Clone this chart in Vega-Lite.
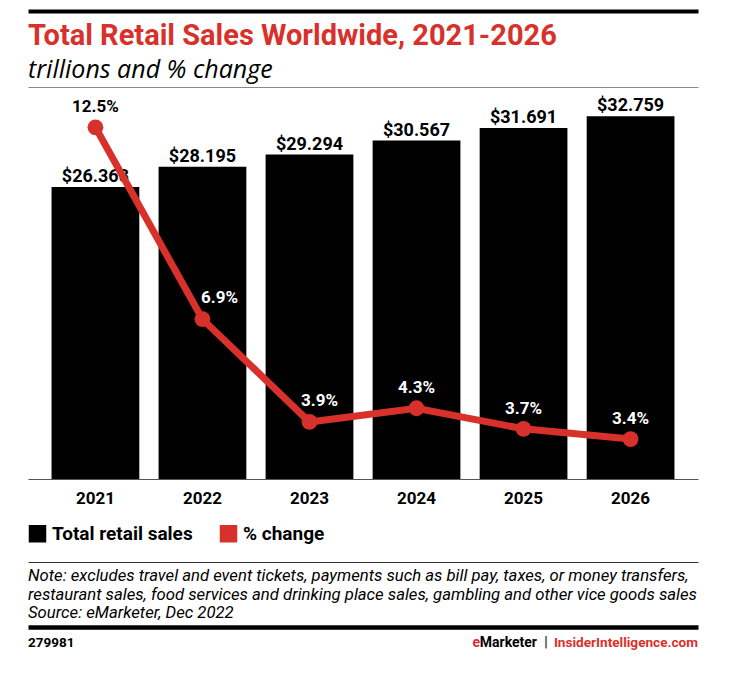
{
  "$schema": "https://vega.github.io/schema/vega-lite/v6.json",
  "background": "white",
  "padding": {"left": 28, "top": 11, "right": 10, "bottom": 5},
  "spacing": 56,
  "config": {
    "font": "Roboto",
    "view": {"stroke": null},
    "axis": {"title": null}
  },
  "datasets": {
    "main": [
      {"year": "2021", "sales": 26.368, "pct": 0.125},
      {"year": "2022", "sales": 28.195, "pct": 0.069},
      {"year": "2023", "sales": 29.294, "pct": 0.039},
      {"year": "2024", "sales": 30.567, "pct": 0.043},
      {"year": "2025", "sales": 31.691, "pct": 0.037},
      {"year": "2026", "sales": 32.759, "pct": 0.034}
    ],
    "notes": [
      {"slot": "l1", "text": "Note: excludes travel and event tickets, payments such as bill pay, taxes, or money transfers,"},
      {"slot": "l2", "text": "restaurant sales, food services and drinking place sales, gambling and other vice goods sales"},
      {"slot": "l3", "text": "Source: eMarketer, Dec 2022"}
    ],
    "footer": [
      {"part": "id", "text": "279981"},
      {"part": "e", "text": "e"},
      {"part": "marketer", "text": "Marketer"},
      {"part": "bar", "text": "|"},
      {"part": "site", "text": "InsiderIntelligence.com"}
    ]
  },
  "vconcat": [
    {
      "width": 670,
      "height": 392,
      "title": {
        "text": "Total Retail Sales Worldwide, 2021-2026",
        "subtitle": "trillions and % change",
        "anchor": "start",
        "frame": "group",
        "baseline": "top",
        "font": "Roboto",
        "fontSize": 29,
        "fontWeight": "bold",
        "color": "#d8312b",
        "subtitleFont": "Open Sans",
        "subtitleFontSize": 25,
        "subtitleFontStyle": "italic",
        "subtitleFontWeight": "normal",
        "subtitleColor": "#000000",
        "subtitlePadding": 7,
        "offset": -72
      },
      "data": {"name": "main"},
      "layer": [
        {
          "encoding": {
            "x": {
              "field": "year", "type": "ordinal",
              "scale": {"paddingInner": 0.18, "paddingOuter": 0.22},
              "axis": {"orient": "bottom", "domainColor": "#555555", "domainWidth": 1, "ticks": false, "tickSize": 0, "labelPadding": 11, "labelFontSize": 17, "labelFontWeight": "bold", "labelColor": "#000000", "labelAngle": 0, "grid": false, "title": null}
            },
            "y": {
              "field": "sales", "type": "quantitative",
              "scale": {"domain": [0, 35.4], "nice": false, "zero": true},
              "axis": {"values": [35.4], "grid": true, "gridColor": "#8a8a8a", "gridWidth": 1, "labels": false, "ticks": false, "domain": false, "title": null}
            }
          },
          "layer": [
            {
              "mark": {"type": "bar"},
              "encoding": {
                "color": {
                  "datum": "Total retail sales", "type": "nominal",
                  "scale": {"domain": ["Total retail sales", "% change"], "range": ["#000000", "#d8312b"]},
                  "legend": {
                    "orient": "none", "legendX": 0, "legendY": 437, "direction": "horizontal",
                    "title": null, "symbolType": "square", "symbolSize": 306, "symbolStrokeWidth": 0,
                    "labelFontSize": 19, "labelFont": "Roboto", "labelFontWeight": "bold", "labelColor": "#000000",
                    "labelOffset": 5, "columnPadding": 26, "padding": 0
                  }
                }
              }
            },
            {
              "mark": {"type": "text", "fontSize": 18, "fontWeight": "bold", "baseline": "alphabetic", "dy": -5, "color": "#000000"},
              "encoding": {"text": {"field": "sales", "type": "quantitative", "format": "$.3f"}}
            }
          ]
        },
        {
          "encoding": {
            "x": {
              "field": "year", "type": "ordinal",
              "scale": {"paddingInner": 0.18, "paddingOuter": 0.22},
              "axis": {"orient": "top", "offset": 76, "domainColor": "#000000", "domainWidth": 4, "labels": false, "ticks": false, "grid": false, "title": null}
            },
            "y": {
              "field": "pct", "type": "quantitative",
              "scale": {"domain": [0.02235, 0.13676], "nice": false, "zero": false},
              "axis": null
            }
          },
          "layer": [
            {"mark": {"type": "line", "color": "#d8312b", "strokeWidth": 7}},
            {"mark": {"type": "point", "filled": true, "size": 250, "color": "#d8312b", "opacity": 1}},
            {
              "transform": [{"filter": "datum.year == '2022'"}],
              "mark": {"type": "text", "fontSize": 17, "fontWeight": "bold", "baseline": "alphabetic", "dy": -16, "dx": 17},
              "encoding": {
                "text": {"field": "pct", "type": "quantitative", "format": ".1%"},
                "color": {"condition": {"test": "datum.pct > 0.1", "value": "#000000"}, "value": "#ffffff"}
              }
            },
            {
              "transform": [{"filter": "datum.year == '2023'"}],
              "mark": {"type": "text", "fontSize": 17, "fontWeight": "bold", "baseline": "alphabetic", "dy": -16, "dx": 10},
              "encoding": {
                "text": {"field": "pct", "type": "quantitative", "format": ".1%"},
                "color": {"condition": {"test": "datum.pct > 0.1", "value": "#000000"}, "value": "#ffffff"}
              }
            },
            {
              "transform": [{"filter": "datum.year != '2022' && datum.year != '2023'"}],
              "mark": {"type": "text", "fontSize": 17, "fontWeight": "bold", "baseline": "alphabetic", "dy": -15},
              "encoding": {
                "text": {"field": "pct", "type": "quantitative", "format": ".1%"},
                "color": {"condition": {"test": "datum.pct > 0.1", "value": "#000000"}, "value": "#ffffff"}
              }
            }
          ]
        }
      ],
      "resolve": {"scale": {"y": "independent"}, "axis": {"x": "independent"}}
    },
    {
      "width": 670,
      "height": 55.8,
      "layer": [
        {
          "data": {"name": "notes"},
          "mark": {"type": "text", "align": "left", "baseline": "alphabetic", "fontSize": 16.7, "fontStyle": "italic", "color": "#000000"},
          "encoding": {
            "x": {
              "datum": "left", "type": "nominal",
              "scale": {"type": "point", "domain": ["left", "right"], "padding": 0},
              "axis": {"orient": "top", "offset": 19, "domainColor": "#333333", "domainWidth": 1.2, "labels": false, "ticks": false, "grid": false, "title": null}
            },
            "y": {
              "field": "slot", "type": "ordinal",
              "scale": {"type": "point", "domain": ["l1", "g1", "l2", "g2", "l3", "r", "f"], "padding": 0},
              "axis": {"values": ["r"], "grid": true, "gridColor": "#000000", "gridWidth": 4.5, "labels": false, "ticks": false, "domain": false, "title": null}
            },
            "text": {"field": "text", "type": "nominal"}
          }
        },
        {
          "data": {"name": "footer"},
          "transform": [{"filter": "datum.part == 'id'"}],
          "mark": {"type": "text", "align": "left", "baseline": "top", "fontSize": 13.5, "fontWeight": "bold", "color": "#000000", "dy": -1},
          "encoding": {
            "x": {"datum": "left", "type": "nominal"},
            "y": {"datum": "f", "type": "ordinal"},
            "text": {"field": "text", "type": "nominal"}
          }
        },
        {
          "data": {"name": "footer"},
          "transform": [{"filter": "datum.part == 'site'"}],
          "mark": {"type": "text", "align": "right", "baseline": "top", "fontSize": 13.6, "fontWeight": "bold", "color": "#d8312b", "dy": -1},
          "encoding": {
            "x": {"datum": "right", "type": "nominal"},
            "y": {"datum": "f", "type": "ordinal"},
            "text": {"field": "text", "type": "nominal"}
          }
        },
        {
          "data": {"name": "footer"},
          "transform": [{"filter": "datum.part == 'marketer'"}],
          "mark": {"type": "text", "align": "right", "baseline": "top", "fontSize": 14, "fontWeight": "bold", "color": "#000000", "dy": -1, "dx": -161},
          "encoding": {
            "x": {"datum": "right", "type": "nominal"},
            "y": {"datum": "f", "type": "ordinal"},
            "text": {"field": "text", "type": "nominal"}
          }
        },
        {
          "data": {"name": "footer"},
          "transform": [{"filter": "datum.part == 'e'"}],
          "mark": {"type": "text", "align": "right", "baseline": "top", "fontSize": 14, "fontWeight": "bold", "color": "#d8312b", "dy": -1, "dx": -218},
          "encoding": {
            "x": {"datum": "right", "type": "nominal"},
            "y": {"datum": "f", "type": "ordinal"},
            "text": {"field": "text", "type": "nominal"}
          }
        },
        {
          "data": {"name": "footer"},
          "transform": [{"filter": "datum.part == 'bar'"}],
          "mark": {"type": "text", "align": "center", "baseline": "top", "fontSize": 14, "fontWeight": "normal", "color": "#000000", "dy": -1, "dx": -152},
          "encoding": {
            "x": {"datum": "right", "type": "nominal"},
            "y": {"datum": "f", "type": "ordinal"},
            "text": {"field": "text", "type": "nominal"}
          }
        }
      ]
    }
  ]
}
